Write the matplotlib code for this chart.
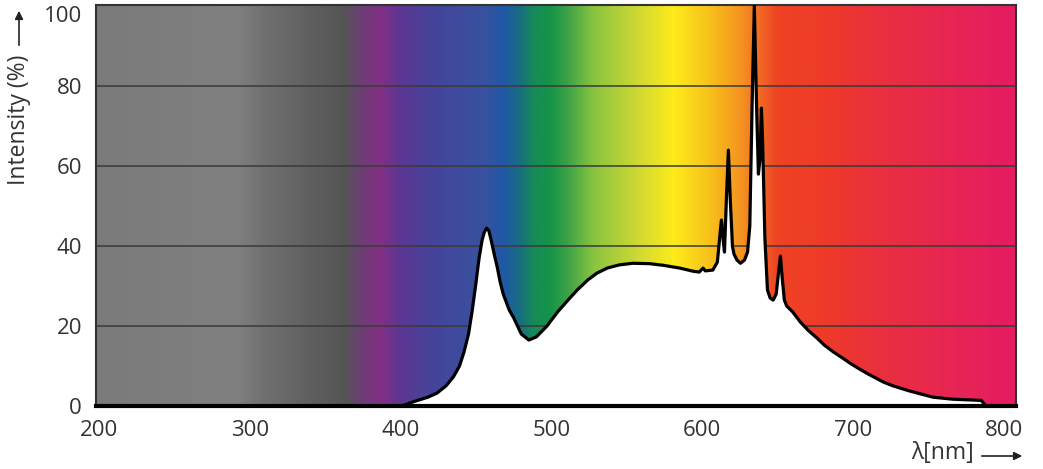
import numpy as np
import matplotlib
matplotlib.use('Agg')
import matplotlib.pyplot as plt
import matplotlib.transforms as mtransforms
from matplotlib.colors import LinearSegmentedColormap

plt.rcParams['font.family'] = ['Open Sans', 'DejaVu Sans']

# spectrum (nm, % intensity)
wavelength = [198, 400, 403, 408, 412, 418, 424, 430, 435, 439, 442, 445, 447.5,
              450, 452, 454, 455.5, 457, 458.5, 460, 462, 464, 466, 468, 472,
              475, 480, 485, 490, 497, 504, 511, 517, 524,
              530, 537, 545, 554, 565, 574, 585, 594, 598, 600.5, 602, 607,
              610, 612, 612.7, 614, 614.7, 616, 617.3, 618.5, 620, 621, 623,
              625.3, 628, 630, 631.5, 633, 634.5, 636, 637.2, 638.3, 639.2,
              640, 640.7, 641.5, 643.2, 645, 647, 649, 651, 651.8, 653, 654.4,
              656, 660, 665, 670, 676, 681, 687, 693, 698, 704, 709, 715, 720,
              726, 731, 737, 743, 753, 766, 785, 788, 808]
intensity = [0, 0, 0.3, 1, 1.5, 2.2, 3.2, 5, 7.3, 10, 13.5, 18, 24,
             31, 37, 41.5, 43.5, 44.5, 43.8, 41.5, 38, 34.8, 31, 28, 24,
             22, 18, 16.5, 17.3, 20, 23.5, 26.5, 29, 31.5,
             33.2, 34.5, 35.3, 35.7, 35.6, 35.2, 34.5, 33.7, 33.5, 34.5, 33.8, 34,
             36, 44, 46.5, 41, 38.5, 52, 64, 52, 40, 38, 36.5,
             35.7, 36.5, 38.5, 45, 75, 100, 75, 58, 62, 74.5,
             66, 55, 42, 29, 27, 26.5, 28, 35, 37.5, 32, 26.5,
             25, 23.5, 21, 19, 17, 15.2, 13.5, 12, 10.7, 9.3, 8.2, 7, 6,
             5.1, 4.5, 3.8, 3.2, 2.2, 1.7, 1.4, 0, 0]

# background colour stops (nm -> colour)
stop_nm = [198, 260, 291, 309, 342, 362, 373, 386.5, 400, 422, 444, 457.5,
           468, 479.4, 488, 499.3, 510.5, 527.8, 557, 580.8, 603.4, 625.3,
           638.5, 649.8, 683, 716, 749.2, 808]
stop_col = ['#7b7b7b', '#7e7e7e', '#808080', '#707070', '#5e5e5e', '#555555',
            '#6b3f73', '#822f85', '#5c3793', '#44449a', '#3d4e9e', '#3652a0',
            '#1f58a6', '#196e80', '#168a58', '#169447', '#3ca248', '#88c440',
            '#cfd833', '#fdeb1b', '#f8c51b', '#f5951f', '#f26a26', '#ee4324',
            '#ee3a2a', '#e9303d', '#e8294c', '#e51c63']

x_min, x_max = 198, 808
y_min, y_max = 0, 100.3

fig = plt.figure(figsize=(10.43, 4.69), dpi=100)
ax = fig.add_axes([96 / 1043, 1 - 406 / 469, 920 / 1043, 401 / 469])

pos = [(n - x_min) / (x_max - x_min) for n in stop_nm]
cmap = LinearSegmentedColormap.from_list('spec', list(zip(pos, stop_col)), N=1024)
grad = np.linspace(0, 1, 1200).reshape(1, -1)
ax.imshow(grad, cmap=cmap, aspect='auto', extent=[x_min, x_max, y_min, y_max],
          interpolation='bilinear', zorder=0)

for g in [20, 40, 60, 80]:
    ax.axhline(g, color='#3a3a3a', lw=1.3, alpha=0.85, zorder=1)

ax.fill_between(wavelength, intensity, 0, color='white', lw=0, zorder=2)
ax.plot(wavelength, intensity, color='black', lw=2.3, zorder=3,
        solid_joinstyle='round')

ax.set_xlim(x_min, x_max)
ax.set_ylim(y_min, y_max)
ax.set_xticks([200, 300, 400, 500, 600, 700, 800])
ax.set_yticks([0, 20, 40, 60, 80, 100])
ax.tick_params(length=0, labelsize=16, labelcolor='#333333', pad=10)

# top label sits a little lower so it stays inside the figure
fig.canvas.draw()
top_lbl = ax.get_yticklabels()[-1]
top_lbl.set_transform(top_lbl.get_transform() +
                      mtransforms.ScaledTranslation(0, -8 / 100, fig.dpi_scale_trans))

for side in ['left', 'top', 'right']:
    ax.spines[side].set_color('#333333')
    ax.spines[side].set_linewidth(1.5)
ax.spines['bottom'].set_color('black')
ax.spines['bottom'].set_linewidth(3)

# axis titles with arrows
fig.text(19 / 1043, 1 - 120 / 469, 'Intensity (%)', rotation=90, ha='center',
         va='center', fontsize=16.5, color='#333333')
fig.patches.append(matplotlib.patches.FancyArrowPatch(
    (19 / 1043, 1 - 48 / 469), (19 / 1043, 1 - 8 / 469),
    transform=fig.transFigure, arrowstyle='-|>', mutation_scale=12,
    color='#222222', lw=1.2))

fig.text(943 / 1043, 1 - 453 / 469, 'λ[nm]', ha='center', va='center',
         fontsize=16.5, color='#333333')
fig.patches.append(matplotlib.patches.FancyArrowPatch(
    (979 / 1043, 1 - 456 / 469), (1025 / 1043, 1 - 456 / 469),
    transform=fig.transFigure, arrowstyle='-|>', mutation_scale=12,
    color='#222222', lw=1.2))

fig.savefig('out.png', dpi=100, facecolor='white')
